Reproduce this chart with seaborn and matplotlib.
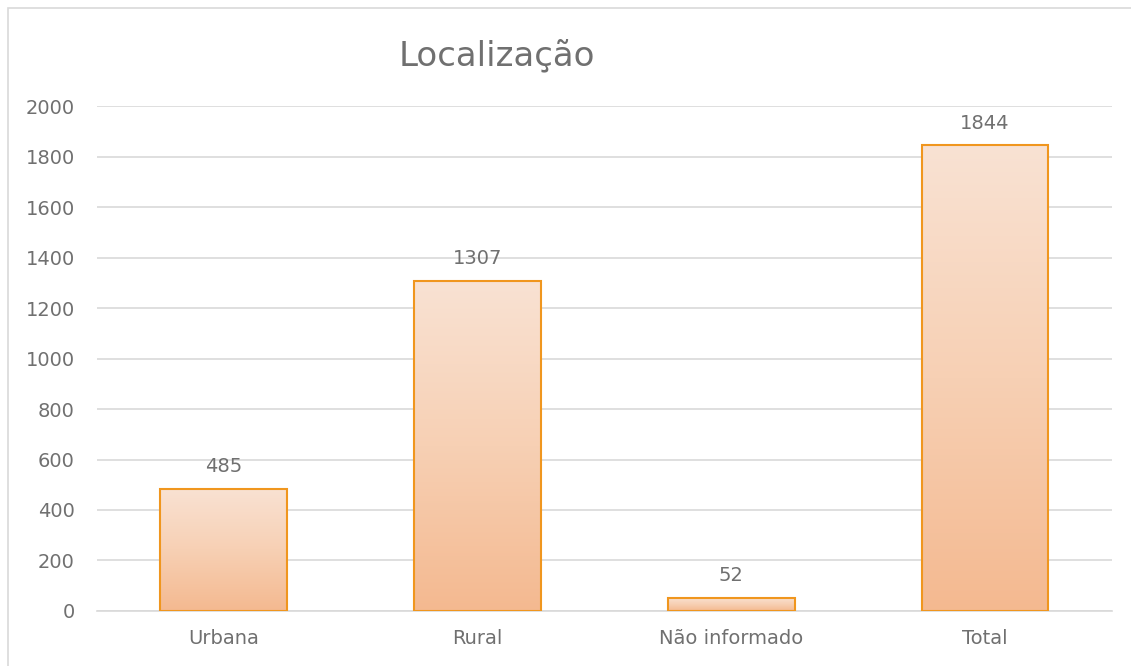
import numpy as np
import pandas as pd
import matplotlib
matplotlib.use("Agg")
import matplotlib.pyplot as plt
from matplotlib.colors import LinearSegmentedColormap
from matplotlib.patches import Rectangle
import seaborn as sns

categories = ["Urbana", "Rural", "Não informado", "Total"]
values = [485, 1307, 52, 1844]
y_ticks = [0, 200, 400, 600, 800, 1000, 1200, 1400, 1600, 1800, 2000]

df = pd.DataFrame({"categoria": categories, "valor": values})

sns.set_theme(style="white")
plt.rcParams["font.family"] = ["DejaVu Sans"]

txt_color = "#707070"

fig = plt.figure(figsize=(11.31, 6.66), dpi=100)
ax = fig.add_axes([0.0858, 0.0826, 0.8972, 0.7582])

sns.barplot(data=df, x="categoria", y="valor", width=0.5, ax=ax,
            color="#F6C9A8", edgecolor="#F0961E", linewidth=1.5, zorder=3)

# per-bar vertical gradient, light at the top, darker at the bottom
cmap = LinearSegmentedColormap.from_list("grad", ["#F4B990", "#F7D0B4", "#F9E2D3"])
grad = np.linspace(0, 1, 256).reshape(-1, 1)
for p in ax.patches:
    x0, y0 = p.get_x(), p.get_y()
    w, h = p.get_width(), p.get_height()
    im = ax.imshow(grad, cmap=cmap, origin="lower", aspect="auto",
                   extent=(x0, x0 + w, y0, y0 + h), zorder=2.5)
    im.set_clip_path(p)
    p.set_facecolor("none")

ax.set_xlim(-0.5, 3.5)
ax.set_ylim(0, 2000)
ax.set_yticks(y_ticks)
ax.yaxis.grid(True, color="#D9D9D9", linewidth=1.2, zorder=0)
ax.set_axisbelow(True)

for s in ["top", "right", "left"]:
    ax.spines[s].set_visible(False)
ax.spines["bottom"].set_color("#D9D9D9")
ax.spines["bottom"].set_linewidth(1.2)

ax.tick_params(axis="both", length=0, labelsize=14, labelcolor=txt_color)
ax.tick_params(axis="y", pad=16)
ax.tick_params(axis="x", pad=13)
ax.set_xlabel("")
ax.set_ylabel("")

ax.bar_label(ax.containers[0], labels=[str(v) for v in values], padding=9,
             fontsize=14, color=txt_color)

fig.text(0.4394, 1 - 65 / 666, "Localização", ha="center", va="baseline",
         fontsize=24.5, color=txt_color)

# outer chart border
fig.patches.append(Rectangle((8 / 1131, -0.01), 1.02, 1 - 8 / 666 + 0.01,
                             transform=fig.transFigure, fill=False,
                             edgecolor="#D9D9D9", linewidth=1.2))

fig.savefig("out.png", dpi=100)
